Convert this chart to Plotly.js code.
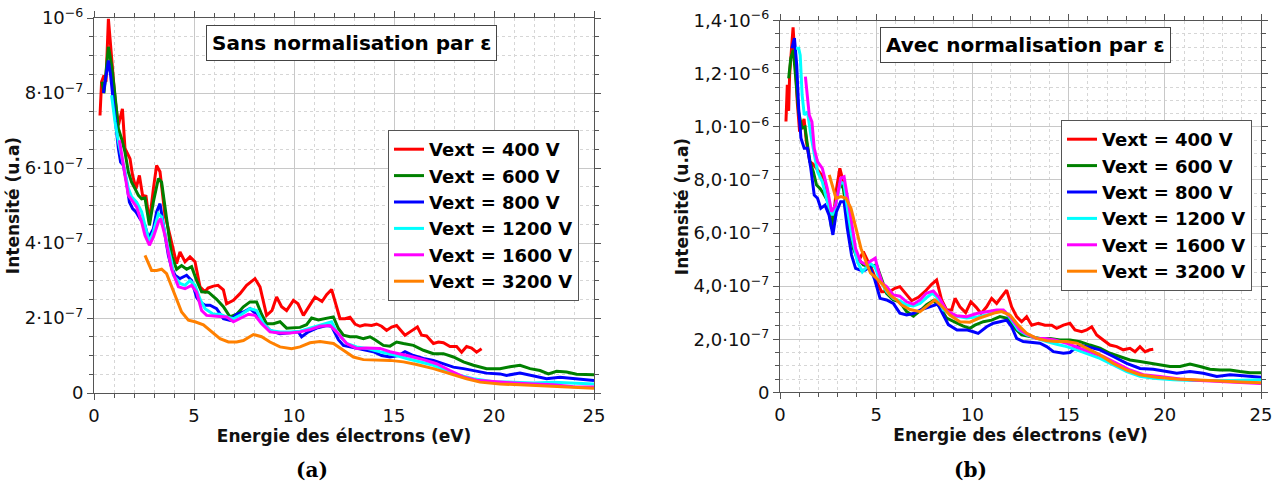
<!DOCTYPE html>
<html><head><meta charset="utf-8">
<script src="https://cdn.plot.ly/plotly-3.0.1.min.js"></script>
<style>html,body{margin:0;padding:0;background:#fff;}#chart{width:1280px;height:490px;}</style>
</head><body><div id="chart"></div>
<script>
// Series names
const seriesNames = ["Vext = 400 V","Vext = 600 V","Vext = 800 V","Vext = 1200 V","Vext = 1600 V","Vext = 3200 V"];
const seriesColors = ["#ff0000","#008000","#0000ff","#00ffff","#ff00ff","#ff8000"];
// Panel (a): [energy eV, intensity in 1e-7 u.a]
const a400 = [[0.3,7.4],[0.38,8.3],[0.5,8.47],[0.6,8.3],[0.72,9.98],[0.8,9.5],[0.88,8.9],[1.05,7.85],[1.22,7.14],[1.42,7.58],[1.55,6.52],[1.8,6.25],[1.93,5.8],[2.1,5.45],[2.27,5.8],[2.43,5.27],[2.6,5.25],[2.77,4.56],[2.97,5.45],[3.13,6.07],[3.3,5.9],[3.55,4.74],[3.8,4.2],[4.0,3.75],[4.13,3.45],[4.3,3.76],[4.55,3.5],[4.8,3.63],[5.05,3.5],[5.3,2.83],[5.55,2.7],[5.7,2.8],[5.97,2.85],[6.2,2.87],[6.47,2.75],[6.63,2.38],[6.97,2.47],[7.3,2.65],[7.63,2.87],[8.05,3.05],[8.3,2.83],[8.63,2.07],[8.9,2.2],[9.13,2.56],[9.38,2.3],[9.63,2.2],[9.97,2.47],[10.2,2.38],[10.47,2.07],[10.8,2.35],[11.05,2.56],[11.4,2.44],[11.63,2.62],[11.88,2.76],[12.05,2.47],[12.3,1.98],[12.55,1.98],[12.8,2.02],[13.05,1.84],[13.3,1.78],[13.55,1.82],[13.88,1.8],[14.13,1.84],[14.38,1.78],[14.63,1.67],[14.88,1.76],[15.13,1.8],[15.3,1.7],[15.55,1.54],[15.8,1.63],[16.17,1.76],[16.38,1.54],[16.63,1.52],[16.97,1.32],[17.22,1.36],[17.47,1.34],[17.8,1.24],[18.13,1.24],[18.38,1.09],[18.63,1.24],[18.88,1.2],[19.13,1.09],[19.38,1.18]];
const a600 = [[0.4,8.3],[0.5,8.0],[0.72,9.23],[0.88,8.74],[1.05,7.94],[1.22,7.05],[1.38,6.78],[1.55,6.42],[1.72,5.89],[1.88,5.62],[2.05,5.45],[2.22,5.27],[2.38,5.18],[2.55,5.2],[2.77,4.47],[2.97,5.1],[3.22,5.72],[3.38,5.62],[3.63,4.65],[3.88,3.67],[4.13,3.3],[4.38,3.4],[4.63,3.3],[4.88,3.37],[5.13,3.0],[5.38,2.7],[5.72,2.69],[6.13,2.5],[6.47,2.3],[6.8,2.03],[7.13,2.1],[7.47,2.3],[7.8,2.43],[8.13,2.43],[8.38,2.1],[8.63,1.85],[8.97,1.85],[9.3,1.9],[9.63,1.73],[9.97,1.73],[10.3,1.75],[10.63,1.82],[10.88,2.0],[11.22,1.95],[11.55,1.98],[11.97,2.03],[12.22,1.72],[12.47,1.54],[12.8,1.5],[13.13,1.5],[13.47,1.45],[13.8,1.5],[14.05,1.42],[14.47,1.27],[14.8,1.25],[15.13,1.36],[15.47,1.32],[15.97,1.27],[16.47,1.14],[16.97,1.05],[17.47,1.05],[17.97,0.96],[18.47,0.83],[18.97,0.74],[19.63,0.65],[20.3,0.65],[20.8,0.7],[21.3,0.74],[21.8,0.65],[22.3,0.6],[22.72,0.51],[23.13,0.58],[23.63,0.56],[24.13,0.5],[25,0.49]];
const a800 = [[0.47,8.0],[0.6,8.5],[0.72,8.87],[0.83,8.47],[0.97,7.76],[1.1,7.05],[1.22,6.52],[1.33,6.16],[1.47,6.07],[1.63,5.62],[1.77,5.09],[1.93,4.92],[2.1,4.83],[2.3,4.65],[2.55,4.47],[2.72,4.12],[2.97,4.38],[3.13,4.83],[3.3,5.05],[3.5,4.38],[3.72,3.67],[3.85,3.4],[4.05,3.14],[4.3,3.05],[4.63,3.14],[4.88,3.0],[5.13,2.55],[5.3,2.43],[5.55,2.34],[5.8,2.34],[6.13,2.25],[6.47,1.98],[6.8,1.94],[7.13,2.1],[7.47,2.16],[7.8,2.25],[8.13,2.1],[8.47,1.85],[8.8,1.67],[9.3,1.58],[9.8,1.6],[10.22,1.63],[10.38,1.5],[10.72,1.63],[11.13,1.73],[11.63,1.8],[11.88,1.78],[12.22,1.42],[12.47,1.27],[12.8,1.23],[13.22,1.19],[13.63,1.14],[13.97,1.1],[14.38,1.0],[14.8,0.96],[15.22,1.0],[15.55,1.1],[15.97,1.0],[16.47,0.92],[16.97,0.87],[17.47,0.78],[17.97,0.69],[18.47,0.65],[18.97,0.6],[19.63,0.53],[20.3,0.51],[20.63,0.47],[21.3,0.53],[21.97,0.45],[22.63,0.38],[23.3,0.42],[23.97,0.38],[25,0.33]];
const a1200 = [[0.88,7.94],[1.05,7.23],[1.22,6.7],[1.38,6.34],[1.55,5.89],[1.72,5.45],[1.88,5.23],[2.13,5.09],[2.38,4.83],[2.63,4.3],[2.77,4.03],[2.97,4.3],[3.22,4.78],[3.38,4.7],[3.63,4.03],[3.88,3.5],[3.97,3.14],[4.3,2.92],[4.55,2.87],[4.8,3.0],[5.05,2.87],[5.3,2.5],[5.55,2.25],[5.97,2.1],[6.3,2.1],[6.63,2.03],[6.97,1.98],[7.38,2.1],[7.8,2.25],[8.13,2.2],[8.47,1.85],[8.8,1.67],[9.3,1.63],[9.8,1.63],[10.3,1.65],[10.8,1.73],[11.3,1.8],[11.88,1.9],[12.13,1.63],[12.63,1.32],[13.13,1.23],[13.63,1.19],[14.3,1.1],[14.72,1.05],[15.13,1.0],[15.63,0.92],[16.3,0.83],[16.97,0.74],[17.63,0.6],[18.3,0.47],[18.97,0.38],[19.97,0.3],[20.97,0.29],[21.97,0.27],[22.97,0.29],[23.97,0.26],[25,0.24]];
const a1600 = [[1.27,6.74],[1.38,6.34],[1.55,5.8],[1.72,5.27],[1.88,5.14],[2.13,4.96],[2.38,4.56],[2.55,4.2],[2.77,3.94],[2.97,4.16],[3.22,4.56],[3.33,4.65],[3.55,4.2],[3.8,3.58],[3.88,3.3],[4.22,2.83],[4.55,2.78],[4.88,2.87],[5.13,2.69],[5.38,2.2],[5.63,2.07],[6.13,2.05],[6.63,2.03],[6.97,1.9],[7.3,1.98],[7.72,2.1],[8.05,2.07],[8.38,1.85],[8.8,1.63],[9.3,1.6],[9.8,1.6],[10.3,1.63],[10.8,1.69],[11.3,1.78],[11.8,1.8],[12.13,1.63],[12.63,1.32],[13.13,1.19],[13.63,1.2],[14.3,1.19],[14.8,1.1],[15.3,1.05],[15.8,0.98],[16.47,0.89],[17.13,0.78],[17.8,0.6],[18.47,0.43],[19.13,0.34],[19.97,0.3],[20.97,0.27],[21.97,0.24],[22.97,0.22],[23.97,0.17],[25,0.16]];
const a3200 = [[2.55,3.67],[2.88,3.27],[3.13,3.27],[3.38,3.3],[3.63,3.18],[3.88,2.83],[4.13,2.47],[4.38,2.16],[4.72,1.94],[5.05,1.9],[5.47,1.82],[5.88,1.63],[6.3,1.45],[6.72,1.36],[7.13,1.36],[7.47,1.4],[7.97,1.56],[8.38,1.5],[8.8,1.36],[9.3,1.23],[9.88,1.18],[10.3,1.23],[10.8,1.34],[11.3,1.37],[11.97,1.32],[12.47,1.14],[12.97,0.96],[13.47,0.89],[14.13,0.89],[14.8,0.87],[15.47,0.83],[16.13,0.76],[16.97,0.65],[17.8,0.51],[18.63,0.38],[19.3,0.29],[20.3,0.24],[21.3,0.22],[22.3,0.2],[23.63,0.16],[25,0.13]];
// Panel (b): [energy eV, intensity in 1e-7 u.a]
const b400 = [[0.31,10.2],[0.38,11.58],[0.45,10.6],[0.5,11.95],[0.6,12.96],[0.68,13.75],[0.8,12.3],[0.9,10.9],[1.02,9.82],[1.14,10.07],[1.25,10.3],[1.37,9.45],[1.55,8.69],[1.72,8.6],[1.9,8.44],[2.16,8.19],[2.42,7.56],[2.6,6.93],[2.77,6.55],[2.94,7.68],[3.11,8.44],[3.29,7.93],[3.55,6.68],[3.81,5.68],[4.07,4.92],[4.33,5.3],[4.59,4.9],[4.76,4.67],[5.02,4.17],[5.28,3.79],[5.71,3.8],[5.97,3.92],[6.23,3.98],[6.5,3.73],[6.84,3.45],[7.19,3.58],[7.54,3.8],[7.88,4.07],[8.14,4.23],[8.4,3.48],[8.66,3.1],[8.92,3.1],[9.1,3.54],[9.35,3.22],[9.65,3.0],[9.92,3.41],[10.2,3.2],[10.45,2.97],[10.74,3.22],[11.0,3.54],[11.26,3.35],[11.52,3.6],[11.78,3.85],[12.04,3.22],[12.3,2.85],[12.56,2.66],[12.82,2.85],[13.08,2.53],[13.43,2.6],[13.77,2.53],[14.12,2.53],[14.38,2.41],[14.73,2.53],[15.07,2.6],[15.33,2.35],[15.68,2.28],[15.94,2.35],[16.2,2.47],[16.46,2.16],[16.8,1.97],[17.15,1.78],[17.5,1.72],[17.84,1.6],[18.19,1.66],[18.45,1.53],[18.71,1.72],[18.97,1.53],[19.23,1.6],[19.4,1.62]];
const b600 = [[0.45,11.83],[0.56,12.58],[0.69,12.9],[0.78,12.2],[0.97,10.57],[1.14,9.95],[1.3,10.0],[1.4,9.45],[1.56,8.69],[1.73,8.31],[1.9,7.81],[2.08,7.68],[2.25,7.5],[2.5,7.18],[2.68,6.17],[2.85,6.93],[3.11,7.93],[3.29,7.68],[3.55,6.42],[3.81,5.42],[3.98,5.11],[4.33,4.8],[4.67,4.73],[5.02,4.8],[5.28,4.23],[5.54,3.73],[5.89,3.48],[6.23,3.41],[6.58,3.04],[6.93,2.87],[7.28,3.07],[7.62,3.3],[7.97,3.45],[8.27,3.25],[8.66,2.8],[9.1,2.63],[9.5,2.5],[9.87,2.41],[10.13,2.53],[10.57,2.66],[11.0,2.72],[11.43,2.85],[11.87,2.78],[12.21,2.41],[12.56,2.16],[12.99,2.1],[13.51,2.03],[14.03,2.03],[14.55,1.97],[15.07,1.97],[15.59,1.91],[16.11,1.78],[16.63,1.66],[17.15,1.47],[17.67,1.35],[18.19,1.22],[18.71,1.16],[19.23,1.09],[19.75,1.03],[20.27,0.97],[20.79,0.97],[21.31,1.06],[21.83,0.97],[22.35,0.87],[22.87,0.84],[23.39,0.84],[23.91,0.78],[24.43,0.74],[25,0.74]];
const b800 = [[0.62,12.96],[0.75,13.34],[0.87,12.33],[0.97,10.7],[1.09,9.57],[1.26,9.19],[1.43,9.19],[1.6,8.44],[1.78,7.43],[1.95,7.31],[2.12,6.93],[2.34,7.05],[2.55,6.67],[2.75,5.93],[2.93,6.8],[3.15,7.18],[3.33,7.18],[3.5,6.17],[3.72,5.17],[3.93,4.67],[4.19,4.6],[4.41,4.6],[4.67,4.73],[4.93,4.23],[5.2,3.54],[5.54,3.48],[5.89,3.35],[6.23,2.98],[6.58,2.91],[6.93,2.97],[7.28,3.1],[7.62,3.18],[7.97,3.26],[8.2,3.32],[8.45,2.97],[8.75,2.55],[9.2,2.35],[9.7,2.35],[10.05,2.28],[10.3,2.22],[10.74,2.47],[11.09,2.6],[11.43,2.66],[11.78,2.72],[12.04,2.47],[12.3,2.03],[12.64,1.91],[13.16,1.87],[13.51,1.85],[13.86,1.72],[14.21,1.53],[14.73,1.47],[15.07,1.5],[15.33,1.66],[15.59,1.78],[15.94,1.72],[16.63,1.6],[17.32,1.35],[18.02,1.09],[18.71,0.9],[19.4,0.87],[20.1,0.78],[20.62,0.72],[21.31,0.78],[22.0,0.72],[22.7,0.6],[23.39,0.66],[24.08,0.62],[25,0.57]];
const b1200 = [[0.83,12.96],[0.97,12.96],[1.05,12.7],[1.15,11.2],[1.26,10.45],[1.43,10.57],[1.6,9.7],[1.78,8.94],[1.95,8.31],[2.2,7.93],[2.46,7.18],[2.72,6.67],[2.89,7.05],[3.15,7.93],[3.33,7.85],[3.5,6.93],[3.72,5.93],[4.02,4.92],[4.28,4.54],[4.45,4.67],[4.67,4.86],[4.93,4.73],[5.2,4.23],[5.54,3.79],[5.89,3.54],[6.23,3.45],[6.58,3.29],[6.93,3.25],[7.28,3.35],[7.62,3.57],[7.92,3.73],[8.14,3.6],[8.49,3.1],[9.05,2.88],[9.7,2.8],[10.3,2.85],[10.74,2.91],[11.26,3.04],[11.69,3.04],[12.04,2.72],[12.38,2.35],[12.82,2.16],[13.34,2.03],[13.86,1.91],[14.38,1.81],[14.9,1.72],[15.42,1.6],[15.94,1.47],[16.63,1.28],[17.32,1.03],[18.02,0.78],[18.71,0.6],[19.4,0.53],[20.44,0.47],[21.48,0.44],[22.52,0.44],[23.56,0.44],[25,0.47]];
const b1600 = [[1.32,11.89],[1.43,11.07],[1.52,10.45],[1.66,10.19],[1.78,9.19],[1.95,8.69],[2.2,8.44],[2.46,7.68],[2.68,6.8],[2.89,7.05],[3.15,8.06],[3.33,8.12],[3.5,7.43],[3.72,6.42],[3.93,5.42],[4.19,4.92],[4.45,4.82],[4.71,4.95],[4.95,5.05],[5.1,4.6],[5.32,4.1],[5.54,3.98],[5.89,3.67],[6.23,3.62],[6.58,3.41],[6.93,3.32],[7.28,3.48],[7.6,3.73],[7.97,3.82],[8.27,3.57],[8.66,3.07],[9.18,2.88],[9.7,2.85],[10.22,2.97],[10.74,3.04],[11.26,3.1],[11.61,3.1],[12.04,2.78],[12.47,2.35],[12.9,2.16],[13.34,2.03],[13.77,2.03],[14.29,1.97],[14.9,1.85],[15.42,1.7],[16.11,1.53],[16.8,1.35],[17.5,1.09],[18.19,0.84],[18.88,0.66],[19.75,0.6],[20.79,0.5],[21.83,0.44],[22.87,0.41],[23.91,0.38],[25,0.33]];
const b3200 = [[2.56,8.19],[2.74,7.68],[2.91,7.31],[3.17,7.37],[3.43,7.31],[3.69,6.93],[3.95,6.17],[4.21,5.42],[4.47,4.92],[4.7,4.5],[5.02,4.29],[5.37,4.04],[5.71,3.67],[6.06,3.48],[6.3,3.3],[6.76,3.12],[7.28,3.04],[7.71,3.29],[8.05,3.48],[8.4,3.25],[8.83,2.91],[9.35,2.66],[9.87,2.64],[10.3,2.78],[10.8,2.9],[11.2,3.0],[11.52,3.04],[11.95,2.91],[12.38,2.53],[12.82,2.22],[13.34,2.03],[13.86,1.94],[14.38,1.91],[14.9,1.91],[15.42,1.85],[15.94,1.66],[16.63,1.41],[17.32,1.09],[18.02,0.84],[18.71,0.66],[19.58,0.57],[20.62,0.5],[21.83,0.47],[22.87,0.43],[23.91,0.39],[25,0.36]];
// Tick labels
const xTicks = [0,5,10,15,20,25];
const yTicksA = [0,2,4,6,8,10];
const yLabelsA = ["0","2·10<sup>−7</sup>","4·10<sup>−7</sup>","6·10<sup>−7</sup>","8·10<sup>−7</sup>","10<sup>−6</sup>"];
const yTicksB = [0,2,4,6,8,10,12,14];
const yLabelsB = ["0","2,0·10<sup>−7</sup>","4,0·10<sup>−7</sup>","6,0·10<sup>−7</sup>","8,0·10<sup>−7</sup>","1,0·10<sup>−6</sup>","1,2·10<sup>−6</sup>","1,4·10<sup>−6</sup>"];

const seriesA = [a400,a600,a800,a1200,a1600,a3200];
const seriesB = [b400,b600,b800,b1200,b1600,b3200];
const FONT = "DejaVu Sans, Verdana, sans-serif";
const traces = [];
seriesA.forEach((s,i)=>traces.push({type:'scatter',mode:'lines',x:s.map(p=>p[0]),y:s.map(p=>p[1]),
  name:'<b>'+seriesNames[i]+'</b>',line:{color:seriesColors[i],width:3},xaxis:'x',yaxis:'y',legend:'legend'}));
seriesB.forEach((s,i)=>traces.push({type:'scatter',mode:'lines',x:s.map(p=>p[0]),y:s.map(p=>p[1]),
  name:'<b>'+seriesNames[i]+'</b>',line:{color:seriesColors[i],width:3},xaxis:'x2',yaxis:'y2',legend:'legend2'}));

function xax(domain, anchor){
  return {domain:domain, anchor:anchor, range:[0,25], tickmode:'array', tickvals:xTicks,
    showline:true, linecolor:'#555', linewidth:1, mirror:'allticks', ticks:'outside', ticklen:6, tickcolor:'#555',
    showgrid:true, gridcolor:'#c8c8c8', gridwidth:1, zeroline:false,
    minor:{tickmode:'linear', tick0:0, dtick:1, ticks:'outside', ticklen:4, tickcolor:'#555', showgrid:true, gridcolor:'#d6d6d6', griddash:'dot', gridwidth:1},
    tickfont:{family:FONT, size:18, color:'#111'},
    title:{text:'<b>Energie des électrons (eV)</b>', font:{family:FONT, size:17, color:'#111'}, standoff:4}};
}
function yax(domain, anchor, range, tv, tt, dt){
  return {domain:domain, anchor:anchor, range:range, tickmode:'array', tickvals:tv, ticktext:tt,
    showline:true, linecolor:'#555', linewidth:1, mirror:'allticks', ticks:'outside', ticklen:6, tickcolor:'#555',
    showgrid:true, gridcolor:'#c8c8c8', gridwidth:1, zeroline:false,
    minor:{tickmode:'linear', tick0:0, dtick:dt, ticks:'outside', ticklen:4, tickcolor:'#555', showgrid:true, gridcolor:'#d6d6d6', griddash:'dot', gridwidth:1},
    tickfont:{family:FONT, size:18, color:'#111'},
    title:{text:'<b>Intensité (u.a)</b>', font:{family:FONT, size:17, color:'#111'}, standoff:0}};
}
const legendBase = {bordercolor:'#555', borderwidth:1, bgcolor:'#ffffff', font:{family:FONT, size:18, color:'#000'}, xanchor:'left', yanchor:'top', tracegroupgap:0};
const layout = {
  width:1280, height:490, margin:{l:0,r:0,t:0,b:0}, paper_bgcolor:'#fff', plot_bgcolor:'#fff',
  showlegend:true,
  xaxis: xax([94/1280, 594/1280],'y'),
  yaxis: yax([97/490, 472/490],'x',[0,10],yTicksA,yLabelsA,0.5),
  xaxis2: xax([780/1280, 1261/1280],'y2'),
  yaxis2: yax([97.7/490, 469.3/490],'x2',[0,14],yTicksB,yLabelsB,0.5),
  legend: Object.assign({}, legendBase, {x:388/1280, y:(490-130)/490}),
  legend2: Object.assign({}, legendBase, {x:1061/1280, y:(490-120)/490}),
  annotations:[
    {text:'<b>Sans normalisation par ε</b>', xref:'paper', yref:'paper', x:351/1280, y:(490-43)/490, xanchor:'center', yanchor:'middle', showarrow:false,
     font:{family:FONT, size:20, color:'#000'}, bgcolor:'#fff', bordercolor:'#444', borderwidth:1, borderpad:5},
    {text:'<b>Avec normalisation par ε</b>', xref:'paper', yref:'paper', x:1025/1280, y:(490-45)/490, xanchor:'center', yanchor:'middle', showarrow:false,
     font:{family:FONT, size:20, color:'#000'}, bgcolor:'#fff', bordercolor:'#444', borderwidth:1, borderpad:5},
    {text:'<b>(a)</b>', xref:'paper', yref:'paper', x:312/1280, y:(490-470)/490, xanchor:'center', yanchor:'middle', showarrow:false,
     font:{family:'DejaVu Serif, Liberation Serif, serif', size:20, color:'#000'}},
    {text:'<b>(b)</b>', xref:'paper', yref:'paper', x:970/1280, y:(490-470)/490, xanchor:'center', yanchor:'middle', showarrow:false,
     font:{family:'DejaVu Serif, Liberation Serif, serif', size:20, color:'#000'}}
  ]
};
Plotly.newPlot('chart', traces, layout, {displayModeBar:false, staticPlot:true});
</script>
</body></html>
